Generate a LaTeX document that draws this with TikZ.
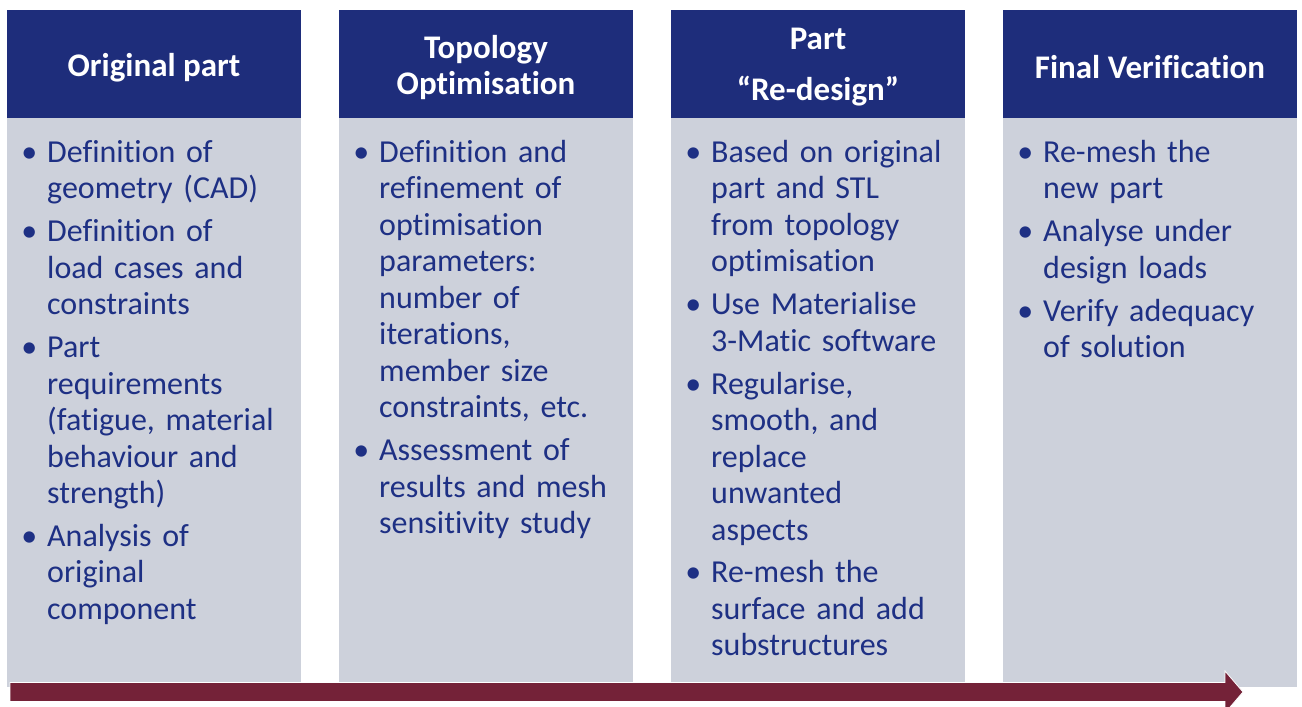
\documentclass[tikz,border=0pt]{standalone}
\usepackage{fontspec}
\setmainfont{Carlito}[Ligatures={TeX,NoCommon}]
\usepackage{tikz}
\usetikzlibrary{positioning}
\definecolor{headnavy}{RGB}{30,45,123}
\definecolor{bodygray}{RGB}{205,209,219}
\definecolor{textnavy}{RGB}{30,48,132}
\definecolor{arrowred}{RGB}{116,34,56}
\newcommand{\itemstrut}{\vrule height 25pt depth 8pt width 0pt}
\newcommand{\entry}[1]{\itemstrut\llap{\textbullet\hspace{10pt}}#1\itemstrut}

\begin{document}
\begin{tikzpicture}[x=1pt, y=-1pt,
    headbox/.style={fill=headnavy, minimum width=294pt, minimum height=108pt, inner sep=0pt},
    headtext/.style={text=white, font=\fontsize{33}{36}\selectfont\bfseries, inner sep=0pt, align=center, yshift=-3.5pt},
    bodybox/.style={fill=bodygray, minimum width=294pt, minimum height=569pt, inner sep=0pt},
    bulletitem/.style={text=textnavy, font=\fontsize{32}{36.5}\selectfont, text width=252pt, align=left, inner sep=0pt},
    node distance=9.5pt
]
\useasboundingbox (0,0) rectangle (1302,707);

\node[headbox] (head1) at (154,64) {};
\node[headbox] (head2) at (486,64) {};
\node[headbox] (head3) at (818,64) {};
\node[headbox] (head4) at (1150,64) {};

\node[headtext] (title1) at (head1.center) {Original part};
\node[headtext] (title2) at (head2.center) {Topology\\Optimisation};
\node[headtext] (title3) at (head3.center) {Part\\[15pt]“Re-design”};
\node[headtext] (title4) at (head4.center) {Final Verification};

\node[bodybox, below=0pt of head1] (body1) {};
\node[bodybox, below=0pt of head2] (body2) {};
\node[bodybox, below=0pt of head3] (body3) {};
\node[bodybox, below=0pt of head4] (body4) {};

\node[bulletitem, anchor=north west] (orig1) at (47,137) {\entry{Definition of\\geometry (CAD)}};
\node[bulletitem, below=of orig1] (orig2) {\entry{Definition of\\load cases and\\constraints}};
\node[bulletitem, below=of orig2] (orig3) {\entry{Part\\requirements\\(fatigue, material\\behaviour and\\strength)}};
\node[bulletitem, below=of orig3] (orig4) {\entry{Analysis of\\original\\component}};

\node[bulletitem, anchor=north west] (topo1) at (379,137) {\entry{Definition and\\refinement of\\optimisation\\parameters:\\number of\\iterations,\\member size\\constraints, etc.}};
\node[bulletitem, below=of topo1] (topo2) {\entry{Assessment of\\results and mesh\\sensitivity study}};

\node[bulletitem, anchor=north west] (redes1) at (711,137) {\entry{Based on original\\part and STL\\from topology\\optimisation}};
\node[bulletitem, below=of redes1] (redes2) {\entry{Use Materialise\\3-Matic software}};
\node[bulletitem, below=of redes2] (redes3) {\entry{Regularise,\\smooth, and\\replace\\unwanted\\aspects}};
\node[bulletitem, below=of redes3] (redes4) {\entry{Re-mesh the\\surface and add\\substructures}};

\node[bulletitem, anchor=north west] (verif1) at (1043,137) {\entry{Re-mesh the\\new part}};
\node[bulletitem, below=of verif1] (verif2) {\entry{Analyse under\\design loads}};
\node[bulletitem, below=of verif2] (verif3) {\entry{Verify adequacy\\of solution}};

\fill[arrowred, draw=white, line width=0.8pt] (10,682.5) -- (1225,682.5) -- (1225,671) -- (1243,692) -- (1225,713) -- (1225,701.5) -- (10,701.5) -- cycle;

\end{tikzpicture}
\end{document}
